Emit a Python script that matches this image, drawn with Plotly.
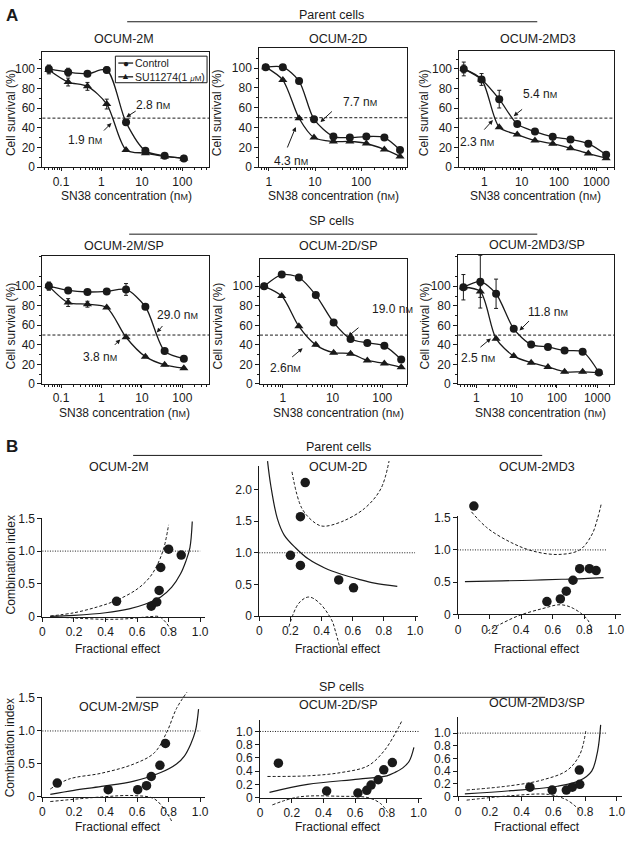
import plotly.graph_objects as go

W, H = 631, 842
FONT = "Liberation Sans, Arial, Helvetica, sans-serif"
INK = "#1a1a1a"
NM = "n<span style='font-size:9px'>M</span>"

# ---------------- Panel A : SN38 dose-response data ----------------
conc_2M = [0.05, 0.15, 0.45, 1.35, 4.05, 12.2, 36.5, 109]
ctrl_2M = [100, 96.7, 95, 99, 45.7, 16.7, 11.7, 9]
ctrl_2M_err = [4, 4, 1, 3, 1, 1, 1, 1]
su_2M = [99, 86.7, 82.3, 64.3, 17.7, 14.3, 11, 9]
su_2M_err = [4, 4, 4, 5, 1, 1, 1, 1]

conc_2D = [0.85, 2, 4.5, 9.5, 25, 57, 130, 320, 700]
ctrl_2D = [101, 101, 87, 48.5, 31, 30, 31, 30, 17.5]
ctrl_2D_err = [1, 1, 1, 1, 1, 1, 1, 1, 1]
su_2D = [101, 88, 49.5, 30, 26, 26, 24, 18, 11]
su_2D_err = [1, 1, 1, 1, 1, 1, 1, 1, 1]

conc_2MD3 = [0.28, 0.84, 2.5, 7.6, 22.7, 68, 204, 613, 1840]
ctrl_2MD3 = [100, 89.3, 69.3, 44, 36.3, 31, 28.3, 24, 12.7]
ctrl_2MD3_err = [7, 6, 9, 1, 1, 1, 1, 1, 1]
su_2MD3 = [100, 89.3, 40.7, 33.3, 27.3, 24, 19.3, 14, 9.3]
su_2MD3_err = [4, 3, 1, 1, 1, 1, 1, 1, 1]

conc_2MSP = [0.05, 0.15, 0.45, 1.35, 4.05, 12.2, 36.5, 109]
ctrl_2MSP = [100, 95.6, 94, 94.6, 96.6, 78.9, 33.6, 25.8]
ctrl_2MSP_err = [4, 3, 1, 1, 6, 1, 1, 1]
su_2MSP = [100, 83.2, 81.5, 78.2, 47.7, 27.9, 19.5, 16.1]
su_2MSP_err = [4, 4, 3, 1, 1, 1, 1, 1]

conc_2DSP = [0.42, 0.95, 2.1, 4.6, 10.5, 23, 50, 110, 240]
ctrl_2DSP = [100, 112, 109, 91, 63, 46, 42, 39, 25]
ctrl_2DSP_err = [1, 1, 1, 1, 1, 1, 1, 1, 1]
su_2DSP = [100, 90, 59, 40, 32, 31, 24, 21, 17]
su_2DSP_err = [1, 1, 1, 1, 1, 1, 1, 1, 1]

conc_2MD3SP = [0.48, 1.26, 3.1, 8.5, 23, 60, 155, 435, 1100]
ctrl_2MD3SP = [99, 104.7, 92.3, 56.4, 40.3, 37.9, 34.2, 32.9, 11.7]
ctrl_2MD3SP_err = [13, 27, 15, 1, 1, 1, 1, 1, 1]
su_2MD3SP = [99, 94.6, 46.3, 28.5, 21.8, 17.4, 12.4, 12.4, 11.7]
su_2MD3SP_err = [1, 6, 1, 1, 1, 1, 1, 1, 1]

ic50_labels = ["2.8 " + NM, "1.9 " + NM, "7.7 " + NM, "4.3 " + NM, "5.4 " + NM, "2.3 " + NM,
               "29.0 " + NM, "3.8 " + NM, "19.0 " + NM, "2.6" + NM, "11.8 " + NM, "2.5 " + NM]

# ---------------- Panel B : combination index data ----------------
ci_2M_fa = [0.47, 0.69, 0.725, 0.74, 0.75, 0.80, 0.88]
ci_2M_ci = [0.234, 0.16, 0.224, 0.40, 0.75, 1.03, 0.94]
fit_2M_fa = [0.05, 0.2, 0.4, 0.55, 0.65, 0.75, 0.82, 0.875, 0.91, 0.935, 0.95]
fit_2M_ci = [0.005, 0.02, 0.06, 0.12, 0.19, 0.3, 0.45, 0.65, 0.85, 1.05, 1.45]
up_2M_fa = [0.05, 0.2, 0.35, 0.47, 0.6, 0.68, 0.73, 0.77, 0.8]
up_2M_ci = [0.01, 0.06, 0.15, 0.25, 0.42, 0.6, 0.8, 1.05, 1.4]
lo_2M_fa = [0.05, 0.2, 0.4, 0.55, 0.68, 0.74, 0.78, 0.82]
lo_2M_ci = [0.0, -0.02, -0.04, -0.03, 0.0, 0.0, -0.08, -0.22]

ci_2D_fa = [0.295, 0.264, 0.20, 0.264, 0.51, 0.605]
ci_2D_ci = [2.11, 1.57, 0.96, 0.80, 0.57, 0.445]
fit_2D_fa = [0.053, 0.074, 0.116, 0.16, 0.232, 0.316, 0.42, 0.527, 0.64, 0.74, 0.886]
fit_2D_ci = [2.45, 2.06, 1.54, 1.28, 1.08, 0.9, 0.76, 0.66, 0.58, 0.52, 0.47]
up_2D_fa = [0.21, 0.274, 0.359, 0.41, 0.527, 0.675, 0.78, 0.833]
up_2D_ci = [2.28, 1.70, 1.47, 1.42, 1.49, 1.70, 2.01, 2.45]
lo_2D_fa = [0.19, 0.253, 0.316, 0.38, 0.464, 0.49, 0.517]
lo_2D_ci = [-0.17, 0.2, 0.30, 0.22, -0.06, -0.25, -0.5]

ci_2MD3_fa = [0.11, 0.6, 0.69, 0.73, 0.775, 0.82, 0.885, 0.93]
ci_2MD3_ci = [1.68, 0.20, 0.24, 0.36, 0.53, 0.71, 0.71, 0.68]
fit_2MD3_fa = [0.05, 0.3, 0.5, 0.7, 0.85, 0.98]
fit_2MD3_ci = [0.51, 0.52, 0.53, 0.545, 0.555, 0.57]
up_2MD3_fa = [0.094, 0.2, 0.364, 0.51, 0.68, 0.82, 0.9, 0.94, 0.965]
up_2MD3_ci = [1.59, 1.34, 1.11, 0.98, 0.93, 1.0, 1.23, 1.49, 1.72]
lo_2MD3_fa = [0.2, 0.28, 0.41, 0.57, 0.69, 0.78, 0.875, 0.9]
lo_2MD3_ci = [-0.26, -0.16, -0.02, 0.09, 0.15, 0.09, -0.09, -0.27]

ci_2MSP_fa = [0.094, 0.417, 0.604, 0.66, 0.69, 0.745, 0.78]
ci_2MSP_ci = [0.21, 0.11, 0.11, 0.17, 0.31, 0.48, 0.81]
fit_2MSP_fa = [0.05, 0.2, 0.375, 0.58, 0.75, 0.85, 0.9, 0.94, 0.97, 0.99]
fit_2MSP_ci = [0.04, 0.1, 0.16, 0.24, 0.37, 0.5, 0.62, 0.8, 1.0, 1.33]
up_2MSP_fa = [0.05, 0.167, 0.375, 0.58, 0.71, 0.79, 0.85, 0.917]
up_2MSP_ci = [0.12, 0.27, 0.36, 0.5, 0.67, 0.99, 1.34, 1.59]
lo_2MSP_fa = [0.05, 0.375, 0.58, 0.71, 0.79, 0.82]
lo_2MSP_ci = [-0.07, 0.0, 0.02, -0.03, -0.25, -0.37]

ci_2DSP_fa = [0.116, 0.42, 0.617, 0.673, 0.70, 0.745, 0.78, 0.834]
ci_2DSP_ci = [0.52, 0.10, 0.07, 0.11, 0.19, 0.27, 0.42, 0.53]
fit_2DSP_fa = [0.06, 0.3, 0.62, 0.8, 0.85, 0.9, 0.94, 0.97]
fit_2DSP_ci = [0.08, 0.2, 0.28, 0.33, 0.38, 0.45, 0.55, 0.76]
up_2DSP_fa = [0.047, 0.306, 0.513, 0.68, 0.78, 0.855, 0.896]
up_2DSP_ci = [0.32, 0.33, 0.38, 0.48, 0.7, 0.98, 1.17]
lo_2DSP_fa = [0.078, 0.244, 0.513, 0.68, 0.76, 0.81]
lo_2DSP_ci = [-0.11, 0.01, 0.02, 0.0, -0.09, -0.24]

ci_2MD3SP_fa = [0.486, 0.635, 0.73, 0.77, 0.817, 0.82]
ci_2MD3SP_ci = [0.145, 0.10, 0.10, 0.145, 0.415, 0.19]
fit_2MD3SP_fa = [0.05, 0.36, 0.67, 0.82, 0.9, 0.94, 0.96]
fit_2MD3SP_ci = [0.04, 0.09, 0.16, 0.25, 0.4, 0.72, 1.13]
up_2MD3SP_fa = [0.062, 0.36, 0.57, 0.735, 0.82, 0.86]
up_2MD3SP_ci = [0.1, 0.17, 0.26, 0.41, 0.66, 1.03]
lo_2MD3SP_fa = [0.062, 0.36, 0.61, 0.735, 0.82]
lo_2MD3SP_ci = [-0.06, 0.01, 0.03, -0.06, -0.22]

fa_ticks = [0, 0.2, 0.4, 0.6, 0.8, 1.0]
fa_ticktext = ["0", "0.2", "0.4", "0.6", "0.8", "1.0"]

# ---------------- helpers ----------------
fig = go.Figure()
layout = dict(width=W, height=H, margin=dict(l=0, r=0, t=0, b=0), paper_bgcolor="white",
              plot_bgcolor="rgba(0,0,0,0)", showlegend=False,
              font=dict(family=FONT, size=12, color=INK))
annotations = []
shapes = []


def xd(a, b):
    return [max(0, a / W), min(1, b / W)]


def yd(top, bot):
    return [max(0, 1 - bot / H), min(1, 1 - top / H)]


def akey(letter, k):
    return f"{letter}axis" if k == 1 else f"{letter}axis{k}"


def aref(letter, k):
    return letter if k == 1 else f"{letter}{k}"


def text(x, y, s, size=12, angle=0, bold=False, xanchor="center"):
    annotations.append(dict(x=x / W, y=1 - y / H, xref="paper", yref="paper",
                            text=f"<b>{s}</b>" if bold else s, showarrow=False,
                            font=dict(size=size, family=FONT, color=INK), textangle=angle,
                            xanchor=xanchor, yanchor="middle", borderpad=0))


def arrow(tail, head):
    annotations.append(dict(x=head[0] / W, y=1 - head[1] / H, xref="paper", yref="paper", text="",
                            showarrow=True, ax=tail[0] - head[0], ay=tail[1] - head[1],
                            arrowhead=2, arrowsize=0.9, arrowwidth=1, arrowcolor=INK,
                            standoff=0, startstandoff=0))


def hline(x0, x1, y, width=1.0):
    shapes.append(dict(type="line", xref="paper", yref="paper", x0=x0 / W, x1=x1 / W,
                       y0=1 - y / H, y1=1 - y / H, line=dict(color=INK, width=width)))


def log_minor(lo, hi):
    vals = []
    for e in range(-3, 5):
        for m in range(2, 10):
            v = m * 10 ** e
            if 10 ** lo <= v <= 10 ** hi:
                vals.append(v)
    return vals


common_axis = dict(showgrid=False, zeroline=False, showline=True, linecolor=INK, linewidth=1,
                   ticks="outside", ticklen=4, tickwidth=1, tickcolor=INK,
                   tickfont=dict(size=12, family=FONT, color=INK))

# ---------------- Panel A ----------------
A_panels = [
    dict(k=1, title="OCUM-2M", conc=conc_2M, ctrl=ctrl_2M, ce=ctrl_2M_err, su=su_2M, se=su_2M_err,
         box=(40, 209, 46, 163), xr=[-1.46, 2.66], ytop=117, tv=[0.1, 1, 10, 100]),
    dict(k=2, title="OCUM-2D", conc=conc_2D, ctrl=ctrl_2D, ce=ctrl_2D_err, su=su_2D, se=su_2D_err,
         box=(260, 410, 42, 163), xr=[-0.21, 3.0], ytop=120, tv=[1, 10, 100]),
    dict(k=3, title="OCUM-2MD3", conc=conc_2MD3, ctrl=ctrl_2MD3, ce=ctrl_2MD3_err, su=su_2MD3, se=su_2MD3_err,
         box=(463, 620, 45, 163), xr=[-0.67, 3.48], ytop=118, tv=[1, 10, 100, 1000]),
    dict(k=4, title="OCUM-2M/SP", conc=conc_2MSP, ctrl=ctrl_2MSP, ce=ctrl_2MSP_err, su=su_2MSP, se=su_2MSP_err,
         box=(40, 209, 253, 383.3), xr=[-1.46, 2.66], ytop=131, tv=[0.1, 1, 10, 100]),
    dict(k=5, title="OCUM-2D/SP", conc=conc_2DSP, ctrl=ctrl_2DSP, ce=ctrl_2DSP_err, su=su_2DSP, se=su_2DSP_err,
         box=(260.7, 410, 256.7, 383.3), xr=[-0.46, 2.5], ytop=127.5, tv=[1, 10, 100]),
    dict(k=6, title="OCUM-2MD3/SP", conc=conc_2MD3SP, ctrl=ctrl_2MD3SP, ce=ctrl_2MD3SP_err, su=su_2MD3SP,
         se=su_2MD3SP_err, box=(461.7, 620, 251.7, 383.3), xr=[-0.45, 3.42], ytop=132.5, tv=[1, 10, 100, 1000]),
]

for p in A_panels:
    k = p["k"]
    x0, x1, top, bot = p["box"]
    layout[akey("x", k)] = dict(common_axis, domain=xd(x0, x1), anchor=aref("y", k), type="log",
                                range=p["xr"], tickmode="array", tickvals=p["tv"], ticklen=3,
                                ticktext=[f"{v:g}" for v in p["tv"]], mirror=True,
                                minor=dict(tickmode="array", tickvals=log_minor(*p["xr"]), ticks="outside",
                                           ticklen=2, tickcolor=INK, showgrid=False))
    layout[akey("y", k)] = dict(common_axis, domain=yd(top, bot), anchor=aref("x", k),
                                range=[0, p["ytop"]], tickmode="array", tickvals=[0, 20, 40, 60, 80, 100],
                                mirror=True,
                                minor=dict(tickmode="array", tickvals=[10, 30, 50, 70, 90, 110, 130],
                                           ticks="outside", ticklen=2, tickcolor=INK, showgrid=False))
    for yv, ev, sym in ((p["su"], p["se"], "triangle-up"), (p["ctrl"], p["ce"], "circle")):
        fig.add_trace(go.Scatter(
            x=p["conc"], y=yv, mode="lines+markers", xaxis=aref("x", k), yaxis=aref("y", k),
            line=dict(color=INK, width=1.3, shape="spline", smoothing=0.8),
            marker=dict(symbol=sym, size=8, color=INK),
            error_y=dict(type="data", array=ev, visible=True, color=INK, thickness=1, width=2),
            hoverinfo="skip"))
    shapes.append(dict(type="line", xref=f"{aref('x', k)} domain", yref=aref("y", k), x0=0, x1=1,
                       y0=50, y1=50, line=dict(color=INK, width=1, dash="3px,2px")))

# titles / axis titles panel A
for (x, y, s) in [(123, 33, "OCUM-2M"), (340, 33, "OCUM-2D"), (543, 33, "OCUM-2MD3"),
                  (123, 243, "OCUM-2M/SP"), (340, 243, "OCUM-2D/SP"), (542, 242, "OCUM-2MD3/SP")]:
    text(x, y, s, 12.5)
for (x, y) in [(125, 192), (335, 192), (540, 192), (123, 413), (340, 413), (545, 413)]:
    text(x, y, "SN38 concentration (" + NM + ")", 12)
for (x, y) in [(8, 107), (217, 107), (427, 107), (8, 324), (218, 324), (428, 324)]:
    text(x, y, "Cell survival (%)", 12, angle=-90)

# IC50 annotations
ic50_pos = [((152, 100), (136, 105), (125, 112)), ((83, 135), (101, 127), (110, 118)),
            ((362, 97), (335, 105), (322, 117)), ((292, 157), (288, 144), (297, 122)),
            ((545, 88), (528, 103), (518, 111)), ((481, 137), (487, 126), (497, 115)),
            ((177, 313), (163, 323), (156, 331)), ((98, 356), (112, 345), (119, 338)),
            ((395, 307), (362, 325), (350, 335)), ((287, 367), (292, 357), (304, 347)),
            ((553, 310), (535, 318), (524, 329)), ((482, 357), (483, 347), (495, 337))]
for lab, (tp, tail, head) in zip(ic50_labels, ic50_pos):
    text(tp[0], tp[1], lab, 12)
    arrow(tail, head)

# manual legend in first panel
shapes.append(dict(type="rect", xref="paper", yref="paper", x0=114 / W, x1=207 / W,
                   y0=1 - 77 / H, y1=1 - 50 / H, line=dict(color=INK, width=1), fillcolor="white"))
hline(117, 132, 57, 1.3)
hline(117, 132, 71, 1.3)
text(124.5, 57, "●", 10)
text(124.5, 70.5, "▲", 9)
text(133, 57, "Control", 10.5, xanchor="left")
text(133, 71, "SU11274(1 <span style='font-size:8px'><i>μ</i>M</span>)", 10.5, xanchor="left")

# ---------------- Panel B ----------------
B_panels = [
    dict(k=7, hk=13, pts=(ci_2M_fa, ci_2M_ci), fit=(fit_2M_fa, fit_2M_ci), up=(up_2M_fa, up_2M_ci),
         lo=(lo_2M_fa, lo_2M_ci), x0=40, xu=160, y0=620, yu=66.7, xmax=1.03, ymax=1.5,
         yt=[0, 0.5, 1, 1.5], ytt=["0", "0.5", "1.0", "1.5"], eb=45),
    dict(k=8, hk=14, pts=(ci_2D_fa, ci_2D_ci), fit=(fit_2D_fa, fit_2D_ci), up=(up_2D_fa, up_2D_ci),
         lo=(lo_2D_fa, lo_2D_ci), x0=260, xu=158, y0=619.3, yu=64.3, xmax=1.02, ymax=2.37,
         yt=[0, 0.5, 1, 1.5, 2], ytt=["0", "0.5", "1.0", "1.5", "2.0"], eb=45),
    dict(k=9, hk=15, pts=(ci_2MD3_fa, ci_2MD3_ci), fit=(fit_2MD3_fa, fit_2MD3_ci), up=(up_2MD3_fa, up_2MD3_ci),
         lo=(lo_2MD3_fa, lo_2MD3_ci), x0=461.7, xu=160, y0=617.7, yu=65.6, xmax=1.03, ymax=1.52,
         yt=[0, 0.5, 1, 1.5], ytt=["0", "0.5", "1.0", "1.5"], eb=45),
    dict(k=10, hk=16, pts=(ci_2MSP_fa, ci_2MSP_ci), fit=(fit_2MSP_fa, fit_2MSP_ci), up=(up_2MSP_fa, up_2MSP_ci),
         lo=(lo_2MSP_fa, lo_2MSP_ci), x0=40, xu=160, y0=803.3, yu=67.1, xmax=1.03, ymax=1.52,
         yt=[0, 0.5, 1, 1.5], ytt=["0", "0.5", "1.0", "1.5"], eb=36),
    dict(k=11, hk=17, pts=(ci_2DSP_fa, ci_2DSP_ci), fit=(fit_2DSP_fa, fit_2DSP_ci), up=(up_2DSP_fa, up_2DSP_ci),
         lo=(lo_2DSP_fa, lo_2DSP_ci), x0=260.7, xu=161, y0=804, yu=67.3, xmax=1.02, ymax=1.17,
         yt=[0, 0.2, 0.4, 0.6, 0.8, 1.0], ytt=["0", "0.2", "0.4", "0.6", "0.8", "1.0"], eb=36),
    dict(k=12, hk=18, pts=(ci_2MD3SP_fa, ci_2MD3SP_ci), fit=(fit_2MD3SP_fa, fit_2MD3SP_ci),
         up=(up_2MD3SP_fa, up_2MD3SP_ci), lo=(lo_2MD3SP_fa, lo_2MD3SP_ci), x0=461.7, xu=161, y0=802.7,
         yu=64.3, xmax=1.03, ymax=1.26,
         yt=[0, 0.2, 0.4, 0.6, 0.8, 1.0], ytt=["0", "0.2", "0.4", "0.6", "0.8", "1.0"], eb=36),
]

EL, ER, ET = 12, 15, 40
for p in B_panels:
    k, hk = p["k"], p["hk"]
    x0, xu, y0, yu = p["x0"], p["xu"], p["y0"], p["yu"]
    x1 = x0 + p["xmax"] * xu
    ytop_px = y0 - p["ymax"] * yu
    layout[akey("x", k)] = dict(common_axis, domain=xd(x0, x1), anchor=aref("y", k), range=[0, p["xmax"]],
                                tickmode="array", tickvals=fa_ticks, ticktext=fa_ticktext)
    layout[akey("y", k)] = dict(common_axis, domain=yd(ytop_px, y0), anchor=aref("x", k), range=[0, p["ymax"]],
                                tickmode="array", tickvals=p["yt"], ticktext=p["ytt"])
    fig.add_trace(go.Scatter(x=[None], y=[None], xaxis=aref("x", k), yaxis=aref("y", k),
                             hoverinfo="skip", showlegend=False))
    eb = p["eb"]
    layout[akey("x", hk)] = dict(visible=False, domain=xd(x0 - EL, x1 + ER), anchor=aref("y", hk),
                                 range=[-EL / xu, p["xmax"] + ER / xu])
    layout[akey("y", hk)] = dict(visible=False, domain=yd(ytop_px - ET, y0 + eb), anchor=aref("x", hk),
                                 range=[-eb / yu, p["ymax"] + ET / yu])
    xa, ya = aref("x", hk), aref("y", hk)
    fig.add_trace(go.Scatter(x=[0, 1.0], y=[1, 1], mode="lines", xaxis=xa, yaxis=ya,
                             line=dict(color=INK, width=1, dash="1px,1.5px"), hoverinfo="skip"))
    for (cx, cy) in (p["up"], p["lo"]):
        fig.add_trace(go.Scatter(x=cx, y=cy, mode="lines", xaxis=xa, yaxis=ya,
                                 line=dict(color=INK, width=1, dash="3px,2px", shape="spline", smoothing=1),
                                 hoverinfo="skip"))
    fig.add_trace(go.Scatter(x=p["fit"][0], y=p["fit"][1], mode="lines", xaxis=xa, yaxis=ya,
                             line=dict(color=INK, width=1.2, shape="spline", smoothing=1), hoverinfo="skip"))
    fig.add_trace(go.Scatter(x=p["pts"][0], y=p["pts"][1], mode="markers", xaxis=xa, yaxis=ya,
                             marker=dict(symbol="circle", size=9.5, color=INK), cliponaxis=False,
                             hoverinfo="skip"))

for (x, y, s) in [(118, 468, "OCUM-2M"), (340, 468, "OCUM-2D"), (542, 468, "OCUM-2MD3"),
                  (118, 712, "OCUM-2M/SP"), (340, 710, "OCUM-2D/SP"), (542, 708, "OCUM-2MD3/SP")]:
    text(x, y, s, 12.5)
for (x, y) in [(117, 653), (340, 653), (542, 653), (117, 834), (340, 834), (542, 834)]:
    text(x, y, "Fractional effect", 12)
for (x, y) in [(8, 567), (8, 753)]:
    text(x, y, "Combination index", 12, angle=-90)

# panel letters and group headers
text(9, 9, "A", 17, bold=True)
text(9, 447, "B", 17, bold=True)
text(333, 8, "Parent cells", 12.5)
hline(126, 542, 15)
text(333, 218, "SP cells", 12.5)
hline(128, 542, 231)
text(340, 447, "Parent cells", 12.5)
hline(132, 547, 456)
text(343, 692, "SP cells", 12.5)
hline(135, 550, 702)

layout["annotations"] = annotations
layout["shapes"] = shapes
fig.update_layout(**layout)
fig.write_html("out.html", config={"displayModeBar": False},
               post_script="document.body.style.margin='0px';document.body.style.overflow='hidden';")
